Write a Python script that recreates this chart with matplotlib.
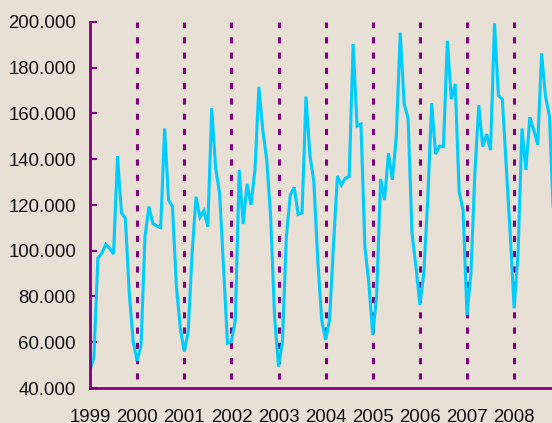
import numpy as np
import matplotlib.pyplot as plt
from matplotlib.ticker import FuncFormatter

# monthly values (thousands), Jan 1999 onwards
values = [
    47.9, 53.4, 96.7, 98.9, 102.8, 101.0, 98.6, 141.4, 116.6, 114.2, 81.4, 60.3,
    51.8, 58.8, 106.2, 119.3, 112.0, 110.8, 110.1, 153.5, 122.2, 119.3, 84.3, 66.1,
    55.9, 64.6, 98.9, 123.6, 114.6, 117.5, 110.5, 162.3, 136.0, 125.1, 93.0, 59.5,
    60.3, 69.7, 135.3, 111.7, 129.2, 120.0, 135.3, 171.7, 152.8, 139.7, 114.9, 71.2,
    49.3, 60.3, 106.2, 124.4, 127.7, 115.9, 116.6, 167.4, 141.8, 130.2, 95.9, 69.7,
    61.0, 69.7, 102.5, 132.7, 128.7, 131.7, 132.4, 190.4, 154.5, 155.4, 101.8, 85.8,
    63.2, 80.7, 131.4, 122.2, 142.6, 131.0, 149.9, 195.4, 164.2, 157.9, 107.6, 93.0,
    76.3, 90.2, 122.2, 164.5, 142.3, 145.8, 145.5, 191.8, 166.3, 172.9, 125.8, 117.8,
    71.9, 90.2, 133.8, 163.7, 145.5, 151.0, 144.0, 199.4, 167.8, 166.3, 136.8, 107.6,
    74.8, 98.9, 153.5, 135.3, 158.4, 152.8, 146.3, 186.3, 167.4, 158.9, 115.0, 90.0,
]
years = list(range(1999, 2009))
year_lines = list(range(2000, 2009))
yticks = [40, 60, 80, 100, 120, 140, 160, 180, 200]

bg = "#e8e0d5"
purple = "#800080"

x = 1999 + np.arange(len(values)) / 12.0

fig = plt.figure(figsize=(5.52, 4.23), dpi=100, facecolor=bg)
ax = fig.add_axes([90 / 552, 1 - 388 / 423, 1 - 90 / 552, 366 / 423])
ax.set_facecolor(bg)
plt.rcParams["font.family"] = ["Liberation Sans", "DejaVu Sans"]

for yr in year_lines:
    ax.plot([yr, yr], [44, 200], color=purple, lw=2.2,
            linestyle=(0, (2, 3)), solid_capstyle="butt", dash_capstyle="butt")

ax.plot(x, values, color="#00ccff", lw=2.2, solid_joinstyle="miter")

ax.set_xlim(1999, 1999 + 462 / 47.125)
ax.set_ylim(40, 200)
ax.set_yticks(yticks)
ax.yaxis.set_major_formatter(FuncFormatter(lambda v, p: f"{int(v)}.000"))
ax.set_xticks(years)
ax.set_xticklabels([str(y) for y in years])

for s in ["top", "right"]:
    ax.spines[s].set_visible(False)
for s in ["left", "bottom"]:
    ax.spines[s].set_color(purple)
    ax.spines[s].set_linewidth(2)

ax.tick_params(axis="y", direction="in", length=5, width=1.5, color=purple,
               labelsize=13.4, pad=10, labelcolor="#111111")
ax.tick_params(axis="x", length=0, labelsize=13.4, pad=15.3, labelcolor="#111111")
for lbl in ax.get_xticklabels() + ax.get_yticklabels():
    lbl.set_family(["Liberation Sans", "DejaVu Sans"])

fig.savefig("out.png", dpi=100, facecolor=bg)
